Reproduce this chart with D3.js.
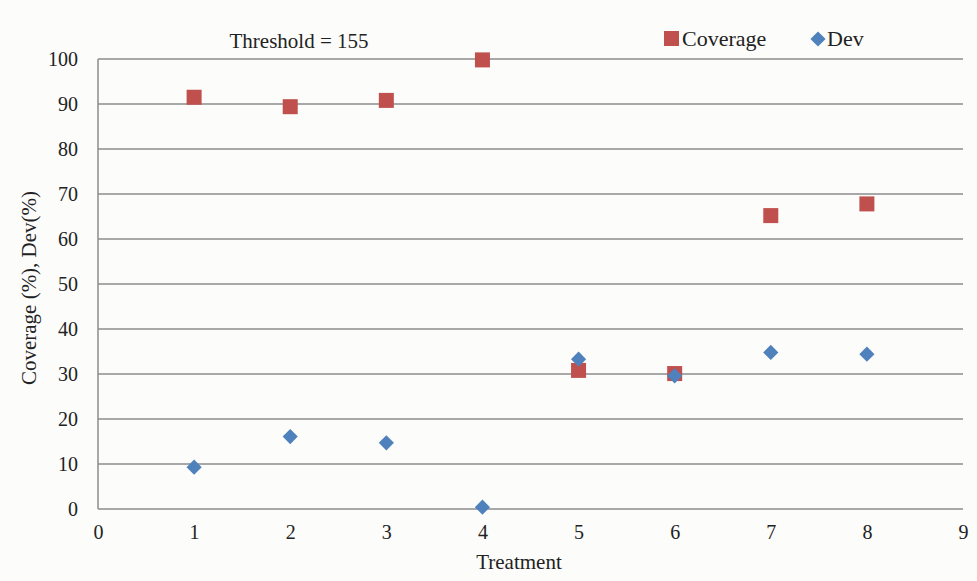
<!DOCTYPE html>
<html lang="en">
<head>
  <script src="https://d3js.org/d3.v7.min.js"></script>
  <style>
    body { margin: 0; background: #fcfcfa; }
    text { font-family: "Liberation Serif", "Times New Roman", serif; fill: #222; }
  </style>
</head>
<body>
  <script>
    var width = 977,
      height = 581;

    // data
    var treatments = [1, 2, 3, 4, 5, 6, 7, 8];
    var coverage = [91.5, 89.4, 90.8, 99.8, 30.8, 30.1, 65.2, 67.8];
    var dev = [9.3, 16.1, 14.7, 0.4, 33.3, 29.6, 34.8, 34.4];
    var xTicks = [0, 1, 2, 3, 4, 5, 6, 7, 8, 9];
    var yTicks = [0, 10, 20, 30, 40, 50, 60, 70, 80, 90, 100];

    var svg = d3.select('body')
      .append('svg')
      .attr('width', width)
      .attr('height', height);

    var x = d3.scaleLinear().domain([0, 9]).range([98, 963]);
    var y = d3.scaleLinear().domain([0, 100]).range([509, 59]);

    // gridlines
    svg.append('g')
      .selectAll('line')
      .data(yTicks)
      .join('line')
      .attr('x1', x(0))
      .attr('x2', x(9))
      .attr('y1', function(d) { return y(d); })
      .attr('y2', function(d) { return y(d); })
      .attr('stroke', '#8c8c8c')
      .attr('stroke-width', 1.5);

    // left axis line
    svg.append('line')
      .attr('x1', x(0)).attr('x2', x(0))
      .attr('y1', y(0)).attr('y2', y(100))
      .attr('stroke', '#8c8c8c')
      .attr('stroke-width', 1.5);

    // y axis
    var yAxis = svg.append('g')
      .attr('transform', 'translate(' + x(0) + ',0)')
      .call(d3.axisLeft(y).tickValues(yTicks).tickSize(0).tickPadding(20));
    yAxis.select('.domain').remove();
    yAxis.selectAll('text')
      .style('font-size', '20px')
      .style('font-family', '"Liberation Serif", serif')
      .attr('fill', '#222');

    // x axis
    var xAxis = svg.append('g')
      .attr('transform', 'translate(0,' + y(0) + ')')
      .call(d3.axisBottom(x).tickValues(xTicks).tickSize(0).tickPadding(16));
    xAxis.select('.domain').remove();
    xAxis.selectAll('text')
      .style('font-size', '20px')
      .style('font-family', '"Liberation Serif", serif')
      .attr('fill', '#222');

    // Coverage squares
    var sq = 15;
    svg.append('g')
      .selectAll('rect')
      .data(treatments)
      .join('rect')
      .attr('x', function(d) { return x(d) - sq / 2; })
      .attr('y', function(d, i) { return y(coverage[i]) - sq / 2; })
      .attr('width', sq)
      .attr('height', sq)
      .attr('fill', '#c0504d');

    // Dev diamonds
    var diamond = d3.symbol().type(d3.symbolSquare).size(115);
    svg.append('g')
      .selectAll('path')
      .data(treatments)
      .join('path')
      .attr('d', diamond)
      .attr('transform', function(d, i) {
        return 'translate(' + x(d) + ',' + y(dev[i]) + ') rotate(45)';
      })
      .attr('fill', '#4f81bd');

    // titles
    svg.append('text')
      .attr('x', 299).attr('y', 48)
      .attr('text-anchor', 'middle')
      .style('font-size', '21px')
      .text('Threshold = 155');

    svg.append('text')
      .attr('transform', 'translate(36,288) rotate(-90)')
      .attr('text-anchor', 'middle')
      .style('font-size', '21px')
      .text('Coverage (%), Dev(%)');

    svg.append('text')
      .attr('x', 519).attr('y', 569)
      .attr('text-anchor', 'middle')
      .style('font-size', '21px')
      .text('Treatment');

    // legend
    svg.append('rect')
      .attr('x', 664).attr('y', 31)
      .attr('width', 15).attr('height', 15)
      .attr('fill', '#c0504d');
    svg.append('text')
      .attr('x', 682).attr('y', 46)
      .style('font-size', '22px')
      .text('Coverage');
    svg.append('path')
      .attr('d', diamond)
      .attr('transform', 'translate(818,39) rotate(45)')
      .attr('fill', '#4f81bd');
    svg.append('text')
      .attr('x', 827).attr('y', 46)
      .style('font-size', '22px')
      .text('Dev');
  </script>
</body>
</html>
